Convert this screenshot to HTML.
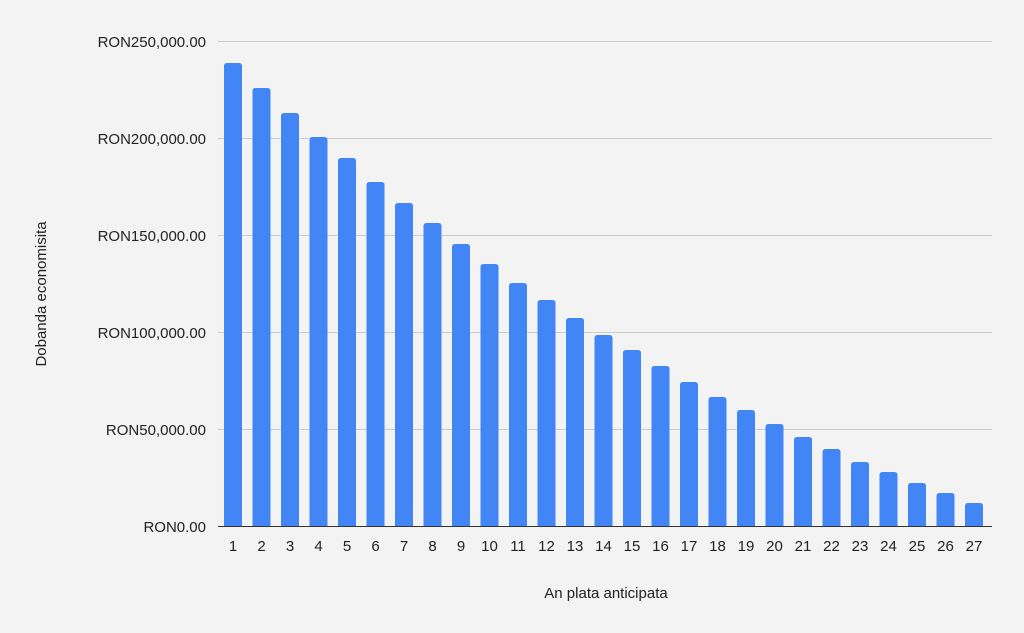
<!DOCTYPE html>
<html><head><meta charset="utf-8"><style>
html,body{margin:0;padding:0;background:#f3f3f3;}
svg{display:block;font-family:"Liberation Sans",Arial,sans-serif;}
</style></head><body>
<svg width="1024" height="633" viewBox="0 0 1024 633" xmlns="http://www.w3.org/2000/svg">
<rect width="1024" height="633" fill="#f3f3f3"/>
<g stroke="#cccccc" stroke-width="1">
<line x1="218" x2="992" y1="41.5" y2="41.5"/>
<line x1="218" x2="992" y1="138.5" y2="138.5"/>
<line x1="218" x2="992" y1="235.5" y2="235.5"/>
<line x1="218" x2="992" y1="332.5" y2="332.5"/>
<line x1="218" x2="992" y1="429.5" y2="429.5"/>
</g>
<g font-size="15" fill="#222" text-anchor="end">
<text x="206" y="47">RON250,000.00</text>
<text x="206" y="144">RON200,000.00</text>
<text x="206" y="241">RON150,000.00</text>
<text x="206" y="338">RON100,000.00</text>
<text x="206" y="435">RON50,000.00</text>
<text x="206" y="532">RON0.00</text>
</g>
<g id="bars" fill="#4285f4"></g>
<line x1="218" x2="992" y1="526.5" y2="526.5" stroke="#333" stroke-width="1"/>
<g id="xl" font-size="15" fill="#222" text-anchor="middle"></g>
<text x="606" y="598" font-size="15" fill="#222" text-anchor="middle">An plata anticipata</text>
<text transform="translate(46,294) rotate(-90)" font-size="15" fill="#222" text-anchor="middle">Dobanda economisita</text>
<script>
var tops=[63,88,113,137,158,182,203,223,244,264,283,300,318,335,350,366,382,397,410,424,437,449,462,472,483,493,503];
var b=document.getElementById('bars'),x=document.getElementById('xl'),ns='http://www.w3.org/2000/svg';
for(var i=0;i<27;i++){var c=233+i*28.5;
var p=document.createElementNS(ns,'path');var l=c-9,r=c+9,t=tops[i];
p.setAttribute('d','M'+l+' 526 V'+(t+3)+' Q'+l+' '+t+' '+(l+3)+' '+t+' H'+(r-3)+' Q'+r+' '+t+' '+r+' '+(t+3)+' V526 Z');b.appendChild(p);
var tx=document.createElementNS(ns,'text');tx.setAttribute('x',c);tx.setAttribute('y',551);tx.textContent=i+1;x.appendChild(tx);}
</script>
</svg>
</body></html>
